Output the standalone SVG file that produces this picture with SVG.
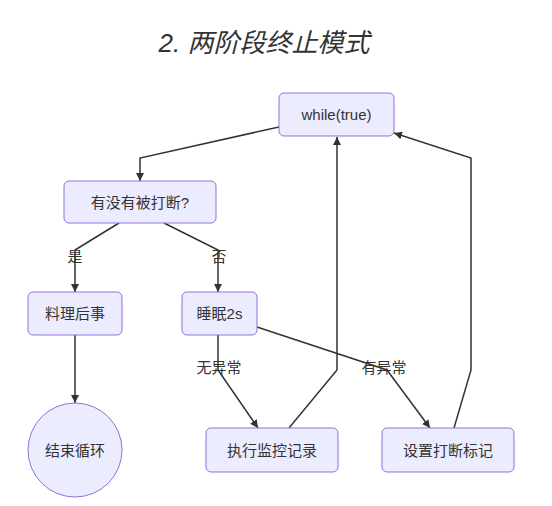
<svg xmlns="http://www.w3.org/2000/svg" width="552" height="506" viewBox="0 0 552 506">
<style>
.node rect, .node circle { fill: #ECECFF; stroke: #9370DB; stroke-width: 1; }
.node text, .label { font-family: "Liberation Sans", "Noto Sans CJK SC", sans-serif; font-size: 15px; fill: #333; text-anchor: middle; dominant-baseline: central; }
.edge { fill: none; stroke: #333; stroke-width: 1.5; }
.title { font-family: "Liberation Sans", "Noto Sans CJK SC", sans-serif; font-size: 26px; font-style: italic; fill: #333; text-anchor: middle; }
</style>
<defs>
<marker id="arrow" viewBox="0 0 10 10" refX="10" refY="5" markerWidth="8" markerHeight="8" markerUnits="userSpaceOnUse" orient="auto">
<path d="M0,0 L10,5 L0,10 z" fill="#333"/>
</marker>
</defs>
<rect width="552" height="506" fill="#fff"/>
<text class="title" x="264" y="52">2. 两阶段终止模式</text>
<g id="connectors">
<path class="edge" d="M279,127 L140,158 L140,181" marker-end="url(#arrow)"/>
<path class="edge" d="M119,223 L75,250 L75,292" marker-end="url(#arrow)"/>
<path class="edge" d="M164,223 L218,250 L218,292" marker-end="url(#arrow)"/>
<path class="edge" d="M75,335 L75,403" marker-end="url(#arrow)"/>
<path class="edge" d="M218,335 L218,370 L258,428" marker-end="url(#arrow)"/>
<path class="edge" d="M257,327 L387,370 L430,428" marker-end="url(#arrow)"/>
<path class="edge" d="M289,428 L337,370 L337,137" marker-end="url(#arrow)"/>
<path class="edge" d="M454,428 L471,370 L471,158 L394,133" marker-end="url(#arrow)"/>
<text class="label" x="75" y="256">是</text>
<text class="label" x="219" y="256">否</text>
<text class="label" x="219" y="367">无异常</text>
<text class="label" x="384" y="367">有异常</text>
</g>
<g id="n-while" class="node"><rect x="279" y="93" width="115" height="43" rx="5"/><text x="336.5" y="114.5">while(true)</text></g>
<g id="n-check" class="node"><rect x="64" y="181" width="152" height="42" rx="5"/><text x="140" y="202">有没有被打断?</text></g>
<g id="n-cleanup" class="node"><rect x="28" y="292" width="94" height="43" rx="5"/><text x="75" y="313.5">料理后事</text></g>
<g id="n-sleep" class="node"><rect x="182" y="292" width="75" height="43" rx="5"/><text x="219.5" y="313.5">睡眠2s</text></g>
<g id="n-end" class="node"><circle cx="75" cy="450" r="47"/><text x="75" y="450">结束循环</text></g>
<g id="n-monitor" class="node"><rect x="206" y="428" width="132" height="44" rx="5"/><text x="272" y="450">执行监控记录</text></g>
<g id="n-flag" class="node"><rect x="382" y="428" width="132" height="44" rx="5"/><text x="448" y="450">设置打断标记</text></g>
</svg>
